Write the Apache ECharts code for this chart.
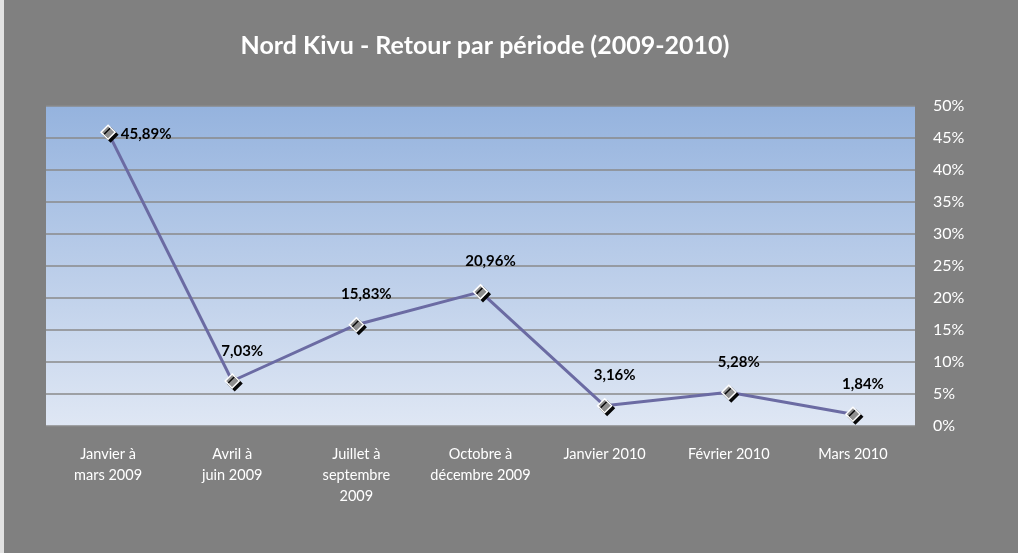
<!DOCTYPE html>
<html>
<head>
<meta charset="utf-8">
<script src="https://cdn.jsdelivr.net/npm/echarts@6/dist/echarts.min.js"></script>
<style>
    html, body { margin: 0; padding: 0; background: #808080; }
    #main { width: 1014px; height: 553px; border-left: 4px solid #e2e2e2; }
</style>
</head>
<body>
<div id="main"></div>
<script>
var periodes = ['Janvier à\nmars 2009', 'Avril à\njuin 2009', 'Juillet à\nseptembre\n2009',
    'Octobre à\ndécembre 2009', 'Janvier 2010', 'Février 2010', 'Mars 2010'];
var retours = [45.89, 7.03, 15.83, 20.96, 3.16, 5.28, 1.84];
var yTicks = [0, 5, 10, 15, 20, 25, 30, 35, 40, 45, 50];

var chart = echarts.init(document.getElementById('main'));

var fmt = function(v) {
    return v.toFixed(2).replace('.', ',') + '%';
};

var option = {
    backgroundColor: '#808080',
    animation: false,
    title: {
        text: 'Nord Kivu - Retour par période (2009-2010)',
        left: 476,
        top: 28,
        textAlign: 'center',
        textStyle: {
            color: '#fff',
            fontFamily: 'Lato',
            fontWeight: 'bold',
            fontSize: 25
        }
    },
    grid: {
        left: 42,
        right: 103,
        top: 106,
        bottom: 127,
        show: true,
        borderWidth: 0,
        backgroundColor: new echarts.graphic.LinearGradient(0, 0, 0, 1, [
            { offset: 0, color: '#95b3de' },
            { offset: 1, color: '#dfe7f4' }
        ])
    },
    xAxis: {
        type: 'category',
        data: periodes,
        boundaryGap: true,
        axisLine: { show: false },
        axisTick: { show: false },
        axisLabel: {
            color: '#fff',
            fontFamily: 'Lato',
            fontSize: 14.5,
            lineHeight: 21,
            margin: 18,
            interval: 0
        }
    },
    yAxis: {
        type: 'value',
        position: 'right',
        min: yTicks[0],
        max: yTicks[yTicks.length - 1],
        interval: 5,
        axisLine: { show: false },
        axisTick: { show: false },
        axisLabel: {
            color: '#fff',
            fontFamily: 'Lato',
            fontSize: 16,
            margin: 18,
            formatter: '{value}%'
        },
        splitLine: {
            lineStyle: { color: '#8a8a8a', width: 1.5 }
        }
    },
    series: [{
        type: 'line',
        data: retours.map(function(v, i) {
            return i === 0 ? { value: v, label: { position: 'right', offset: [0, 2] } } : v;
        }),
        symbol: 'diamond',
        symbolSize: 14,
        lineStyle: { color: '#6b6ba3', width: 3 },
        itemStyle: {
            color: '#8f8f8f',
            borderColor: '#fff',
            borderWidth: 1.5,
            shadowColor: 'rgba(0,0,0,0.95)',
            shadowBlur: 0,
            shadowOffsetX: 2.5,
            shadowOffsetY: 2.5
        },
        label: {
            show: true,
            position: 'top',
            offset: [10, -10],
            color: '#000',
            fontFamily: 'Lato',
            fontWeight: 'bold',
            fontSize: 15,
            formatter: function(p) { return fmt(p.value); }
        }
    }]
};
chart.setOption(option);
</script>
</body>
</html>
